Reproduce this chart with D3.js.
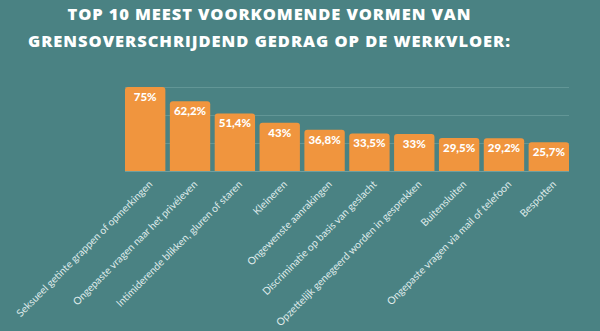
<!DOCTYPE html>
<html><head><meta charset="utf-8">
<script src="https://cdn.jsdelivr.net/npm/d3@7"></script>
<style>
html,body{margin:0;padding:0;background:#4a8283;}
svg{display:block;}
</style></head>
<body>
<svg id="chart" width="600" height="331"></svg>
<script>
const titleLines = ["TOP 10 MEEST VOORKOMENDE VORMEN VAN", "GRENSOVERSCHRIJDEND GEDRAG OP DE WERKVLOER:"];
const categories = [
  "Seksueel getinte grappen of opmerkingen",
  "Ongepaste vragen naar het privéleven",
  "Intimiderende blikken, gluren of staren",
  "Kleineren",
  "Ongewenste aanrakingen",
  "Discriminatie op basis van geslacht",
  "Opzettelijk genegeerd worden in gesprekken",
  "Buitensluiten",
  "Ongepaste vragen via mail of telefoon",
  "Bespotten"
];
const values = [75, 62.2, 51.4, 43, 36.8, 33.5, 33, 29.5, 29.2, 25.7];
const valueLabels = ["75%", "62,2%", "51,4%", "43%", "36,8%", "33,5%", "33%", "29,5%", "29,2%", "25,7%"];
const gridTicks = [25, 50, 75];

const svg = d3.select("#chart");
const mLeft = 125, mRight = 569, mTop = 87, mBottom = 171;

const x = d3.scaleBand().domain(categories).range([mLeft, mRight]).paddingInner(0.1).paddingOuter(0);
const y = d3.scaleLinear().domain([0, 75]).range([mBottom, mTop]);

// title: spread letters so each line spans the reference width
const titleWidths = [403, 482];
svg.selectAll("text.title").data(titleLines).join("text")
  .attr("class", "title")
  .attr("x", 269).attr("y", (d, i) => i === 0 ? 20 : 47)
  .attr("text-anchor", "middle")
  .attr("fill", "#ffffff")
  .attr("font-family", "'Open Sans', sans-serif")
  .attr("font-weight", 800)
  .attr("font-size", 16.5)
  .text(d => d)
  .each(function(d, i) {
    const w = this.getComputedTextLength();
    const ls = (titleWidths[i] - w) / (d.length - 1);
    d3.select(this).attr("letter-spacing", ls).attr("x", 269 + ls / 2);
  });

// gridlines
svg.append("g").selectAll("line").data(gridTicks).join("line")
  .attr("x1", mLeft).attr("x2", mRight)
  .attr("y1", d => y(d) + 0.5).attr("y2", d => y(d) + 0.5)
  .attr("stroke", "#629696").attr("stroke-width", 1);

// bars with rounded top
function barPath(d, i) {
  const x0 = x(categories[i]), w = x.bandwidth(), y0 = y(d), y1 = y(0), r = 3;
  return `M${x0},${y1} L${x0},${y0 + r} Q${x0},${y0} ${x0 + r},${y0} L${x0 + w - r},${y0} Q${x0 + w},${y0} ${x0 + w},${y0 + r} L${x0 + w},${y1} Z`;
}
svg.append("g").selectAll("path").data(values).join("path")
  .attr("d", barPath)
  .attr("fill", "#f0953e");

// baseline
svg.append("line").attr("x1", mLeft).attr("x2", mRight)
  .attr("y1", y(0) + 0.5).attr("y2", y(0) + 0.5)
  .attr("stroke", "#6f9f9f").attr("stroke-width", 1);

// value labels
svg.append("g").selectAll("text").data(values).join("text")
  .attr("x", (d, i) => x(categories[i]) + x.bandwidth() / 2)
  .attr("y", d => y(d) + 14)
  .attr("text-anchor", "middle")
  .attr("fill", "#ffffff")
  .attr("font-family", "'Lato', sans-serif")
  .attr("font-weight", 900)
  .attr("font-size", 11.5)
  .text((d, i) => valueLabels[i]);

// category labels
svg.append("g").selectAll("text").data(categories).join("text")
  .attr("transform", d => `translate(${x(d) + x.bandwidth() / 2 + 8},${y(0) + 14}) rotate(-45)`)
  .attr("text-anchor", "end")
  .attr("fill", "#dfeaea")
  .attr("font-family", "'Lato', sans-serif")
  .attr("font-size", 10.3)
  .text(d => d);
</script>
</body></html>
